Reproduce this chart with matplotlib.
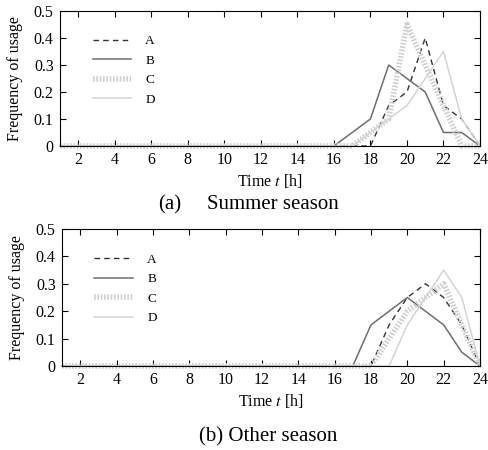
import numpy as np
import matplotlib.pyplot as plt

plt.rcParams['font.family'] = ['Liberation Serif', 'DejaVu Serif']
plt.rcParams['mathtext.fontset'] = 'stix'

hours = np.arange(1, 25)
labels = ['A', 'B', 'C', 'D']

# summer season, hours 1..24
summer_a = [0]*18 + [0.15, 0.20, 0.40, 0.15, 0.10, 0]
summer_b = [0]*16 + [0.05, 0.10, 0.30, 0.25, 0.20, 0.05, 0.05, 0]
summer_c = [0]*17 + [0.05, 0.10, 0.45, 0.30, 0.15, 0, 0]
summer_d = [0]*17 + [0.05, 0.10, 0.15, 0.25, 0.35, 0.10, 0]

# other season
other_a = [0]*18 + [0.15, 0.25, 0.30, 0.25, 0.15, 0]
other_b = [0]*17 + [0.15, 0.20, 0.25, 0.20, 0.15, 0.05, 0]
other_c = [0]*18 + [0.10, 0.20, 0.25, 0.30, 0.15, 0]
other_d = [0]*19 + [0.15, 0.25, 0.35, 0.25, 0]

styles = [
    dict(color='#333333', lw=1.0, ls=(0, (4, 3))),
    dict(color='#6e6e6e', lw=1.1, ls='-'),
    dict(color='#cfcfcf', lw=4.0, ls=(0, (0.3, 0.3))),
    dict(color='#d4d4d4', lw=1.1, ls='-'),
]

fig = plt.figure(figsize=(4.89, 4.5), dpi=100)
ax1 = fig.add_axes([60/489, 1 - 146/450, 420/489, 135/450])
ax2 = fig.add_axes([62/489, 1 - 366/450, 418/489, 137/450])

for ax, series in [(ax1, [summer_a, summer_b, summer_c, summer_d]),
                   (ax2, [other_a, other_b, other_c, other_d])]:
    for lab, y, st in zip(labels, series, styles):
        ax.plot(hours, y, label=lab, clip_on=False, **st)
    ax.set_xlim(1, 24)
    ax.set_ylim(0, 0.5)
    ax.set_xticks(range(2, 25, 2))
    ax.set_yticks([0, 0.1, 0.2, 0.3, 0.4, 0.5])
    ax.set_yticklabels(['0', '0.1', '0.2', '0.3', '0.4', '0.5'])
    ax.tick_params(direction='in', top=True, right=True, labelsize=11.5,
                   length=4, width=0.8, pad=4.5)
    ax.set_xlabel('Time $t$ [h]', fontsize=11.5, labelpad=3)
    ax.set_ylabel('Frequency of usage', fontsize=11.5)
    ax.yaxis.set_label_coords(-37/420, 0.5)
    ax.legend(loc='upper left', bbox_to_anchor=(0.065, 0.86), frameon=False,
              fontsize=9.5, handlelength=2.9, handletextpad=1.1,
              labelspacing=0.55, borderaxespad=0)

# captions
fig.text(158/489, 1 - 205/450, '(a)', ha='left', va='center', fontsize=15)
fig.text(207/489, 1 - 205/450, 'Summer season', ha='left', va='center',
         fontsize=15)
fig.text(268/489, 1 - 437/450, '(b) Other season', ha='center', va='center',
         fontsize=15)

plt.savefig('out.png', dpi=100)
